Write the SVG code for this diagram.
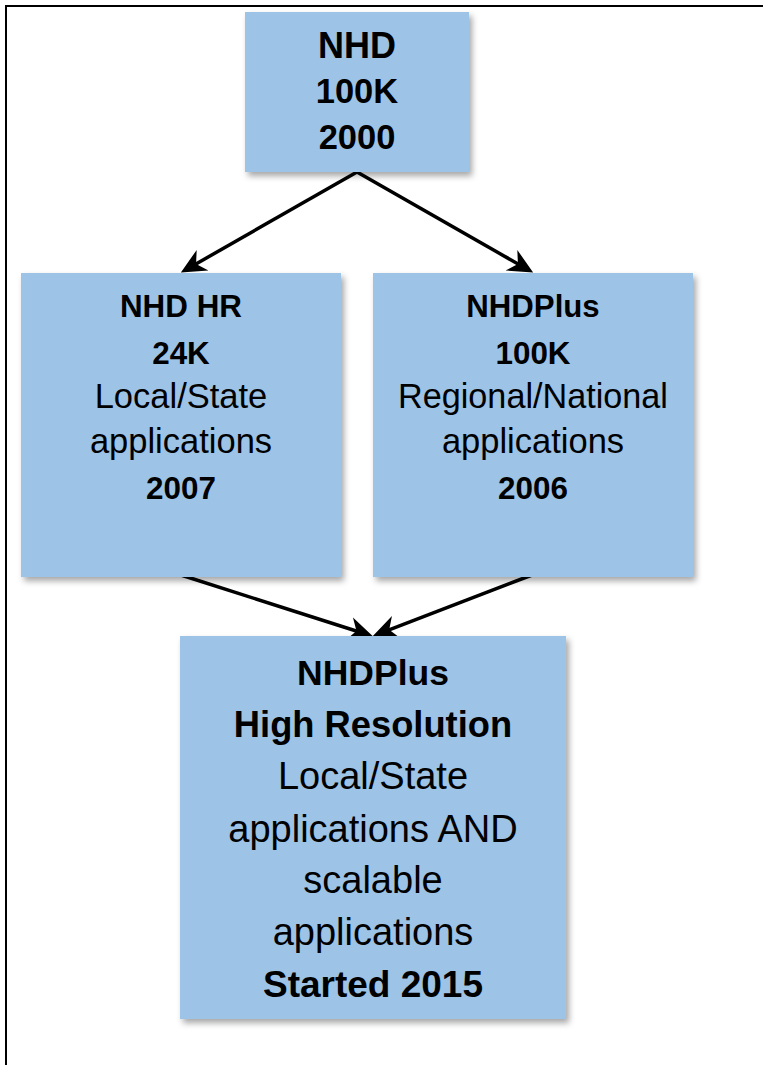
<svg xmlns="http://www.w3.org/2000/svg" width="763" height="1065" viewBox="0 0 763 1065">
<style>
.box{fill:#9DC3E6;filter:url(#sh)}
text{font-family:"Liberation Sans",Arial,sans-serif;fill:#000;text-anchor:middle}
.b{font-weight:bold}
.edge{stroke:#000;stroke-width:3.5;fill:none;marker-end:url(#ah)}
</style>
<defs>
<filter id="sh" x="-10%" y="-10%" width="125%" height="125%">
<feDropShadow dx="3" dy="4" stdDeviation="3" flood-color="#000" flood-opacity="0.35"/>
</filter>
<marker id="ah" markerUnits="userSpaceOnUse" markerWidth="30" markerHeight="30" viewBox="0 -12 24 24" refX="15" refY="0" orient="auto">
<path d="M20,0 L0,-9.5 L6,0 L0,9.5 Z" fill="#000"/>
</marker>
</defs>
<rect width="763" height="1065" fill="#fff"/>
<path d="M6,1065 V6 H763" stroke="#000" stroke-width="2" fill="none"/>
<g id="connectors">
<line class="edge" x1="357" y1="172" x2="186.3" y2="269.5"/>
<line class="edge" x1="357" y1="172" x2="527.7" y2="269.5"/>
<line class="edge" x1="181" y1="575" x2="367.2" y2="634.5"/>
<line class="edge" x1="532" y1="575" x2="378.7" y2="633.8"/>
</g>
<g id="nhd">
<rect class="box" x="245" y="12" width="224" height="160"/>
<text class="b" x="357" y="58" font-size="36">NHD</text>
<text class="b" x="357" y="103" font-size="34.5">100K</text>
<text class="b" x="357" y="148.5" font-size="34.5">2000</text>
</g>
<g id="nhdhr">
<rect class="box" x="21" y="273" width="320" height="304"/>
<text class="b" x="181" y="317" font-size="31.4">NHD HR</text>
<text class="b" x="181" y="364" font-size="31.4">24K</text>
<text x="181" y="408" font-size="34.5">Local/State</text>
<text x="181" y="453" font-size="34.5">applications</text>
<text class="b" x="181" y="499" font-size="31.4">2007</text>
</g>
<g id="nhdplus">
<rect class="box" x="373" y="273" width="320" height="304"/>
<text class="b" x="533" y="317" font-size="31.2">NHDPlus</text>
<text class="b" x="533" y="364" font-size="31.4">100K</text>
<text x="533" y="408" font-size="34.2">Regional/National</text>
<text x="533" y="453" font-size="34.5">applications</text>
<text class="b" x="533" y="499" font-size="31.4">2006</text>
</g>
<g id="nhdplushr">
<rect class="box" x="180" y="636" width="386" height="383"/>
<text class="b" x="373" y="685" font-size="35.5">NHDPlus</text>
<text class="b" x="373" y="737" font-size="36.3">High Resolution</text>
<text x="373" y="789" font-size="38">Local/State</text>
<text x="373" y="842" font-size="38">applications AND</text>
<text x="373" y="893" font-size="38">scalable</text>
<text x="373" y="945" font-size="38">applications</text>
<text class="b" x="373" y="997" font-size="37">Started 2015</text>
</g>
</svg>
